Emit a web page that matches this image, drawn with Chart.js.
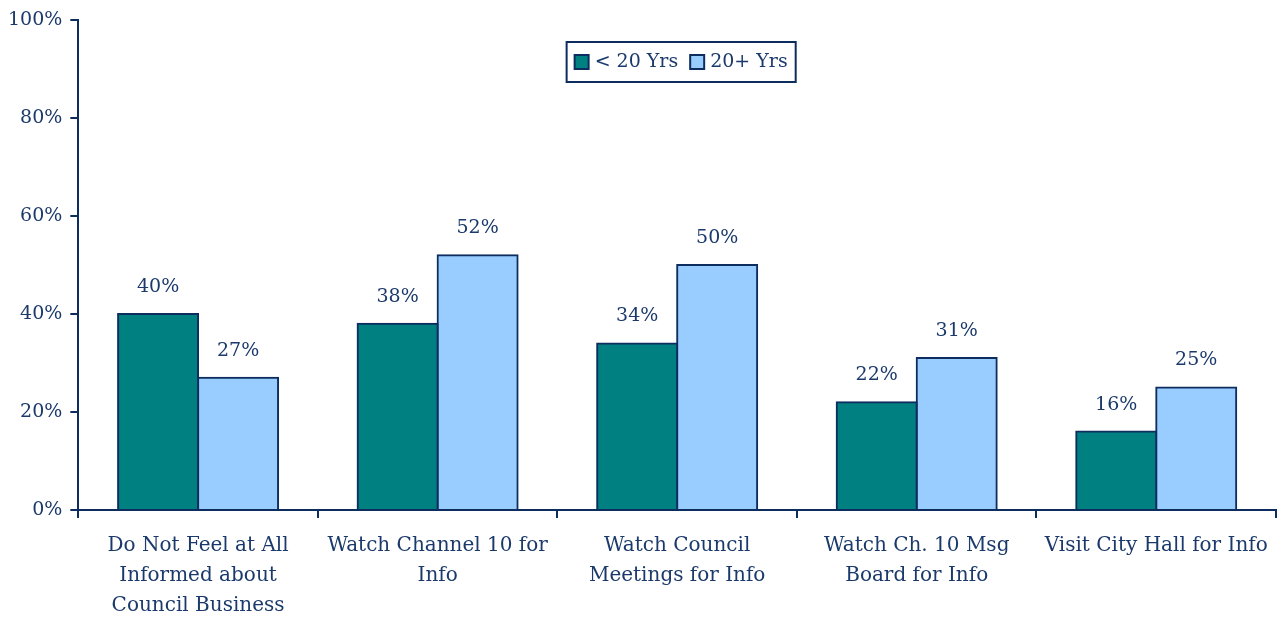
<!DOCTYPE html>
<html>
<head>
<meta charset="utf-8">
<script src="https://cdn.jsdelivr.net/npm/chart.js@4"></script>
<style>
html,body{margin:0;padding:0;background:#fff;}
#wrap{width:1282px;height:619px;}
</style>
</head>
<body>
<div id="wrap"><canvas id="c" width="1282" height="619"></canvas></div>
<script>
const categories = [
  ["Do Not Feel at All","Informed about","Council Business"],
  ["Watch Channel 10 for","Info"],
  ["Watch Council","Meetings for Info"],
  ["Watch Ch. 10 Msg","Board for Info"],
  ["Visit City Hall for Info"]
];
const seriesNames = ["< 20 Yrs", "20+ Yrs"];
const under20 = [40, 38, 34, 22, 16];
const over20 = [27, 52, 50, 31, 25];
const yTicks = [0, 20, 40, 60, 80, 100];

const NAVY = '#0d2d5e';
const TEXT = '#1b3a6b';
const FONT = '"DejaVu Serif", serif';
const colors = ['#008080', '#99ccff'];

const valueLabels = {
  id: 'valueLabels',
  afterDatasetsDraw(chart) {
    const ctx = chart.ctx;
    ctx.save();
    ctx.fillStyle = TEXT;
    ctx.font = '19px ' + FONT;
    ctx.textAlign = 'center';
    ctx.textBaseline = 'middle';
    chart.data.datasets.forEach((ds, i) => {
      chart.getDatasetMeta(i).data.forEach((bar, j) => {
        ctx.fillText(ds.data[j] + '%', bar.x, bar.y - 27);
      });
    });
    ctx.restore();
  }
};

const boxLegend = {
  id: 'boxLegend',
  afterDraw(chart) {
    const ctx = chart.ctx;
    const ca = chart.chartArea;
    const cx = (ca.left + ca.right) / 2 + 4;
    ctx.save();
    ctx.font = '19px ' + FONT;
    const sw = 14, gap = 6, itemGap = 12, pad = 8;
    const widths = seriesNames.map(n => sw + gap + ctx.measureText(n).width);
    const total = widths.reduce((a, b) => a + b, 0) + itemGap + pad * 2;
    const h = 40;
    const left = cx - total / 2;
    const top = ca.top + 22;
    ctx.strokeStyle = NAVY;
    ctx.lineWidth = 2;
    ctx.strokeRect(left, top, total, h);
    let x = left + pad;
    const my = top + h / 2;
    seriesNames.forEach((n, i) => {
      ctx.fillStyle = colors[i];
      ctx.fillRect(x, my - sw / 2, sw, sw);
      ctx.lineWidth = 2;
      ctx.strokeRect(x, my - sw / 2, sw, sw);
      ctx.fillStyle = TEXT;
      ctx.textBaseline = 'middle';
      ctx.textAlign = 'left';
      ctx.fillText(n, x + sw + gap, my);
      x += widths[i] + itemGap;
    });
    ctx.restore();
  }
};

new Chart(document.getElementById('c'), {
  type: 'bar',
  data: {
    labels: categories,
    datasets: [
      { label: seriesNames[0], data: under20, backgroundColor: colors[0], borderColor: NAVY, borderWidth: 2, borderSkipped: 'bottom', inflateAmount: 1 },
      { label: seriesNames[1], data: over20, backgroundColor: colors[1], borderColor: NAVY, borderWidth: 2, borderSkipped: 'bottom', inflateAmount: 1 }
    ]
  },
  options: {
    responsive: false,
    animation: false,
    layout: { padding: { top: 20, right: 6, left: 0, bottom: 0 } },
    datasets: { bar: { categoryPercentage: 0.668, barPercentage: 1.0 } },
    plugins: { legend: { display: false }, tooltip: { enabled: false } },
    scales: {
      x: {
        afterFit(axis) { axis.height = 109; },
        grid: { drawOnChartArea: false, drawTicks: true, tickLength: 8, color: NAVY, lineWidth: 2, offset: true },
        border: { color: NAVY, width: 2 },
        ticks: { color: TEXT, font: { family: FONT, size: 20, lineHeight: 1.5 }, maxRotation: 0, autoSkip: false, padding: 13 }
      },
      y: {
        min: 0, max: 100,
        afterBuildTicks(axis) { axis.ticks = yTicks.map(v => ({ value: v })); },
        grid: { drawOnChartArea: false, drawTicks: true, tickLength: 8, color: NAVY, lineWidth: 2 },
        border: { color: NAVY, width: 2 },
        ticks: { color: TEXT, font: { family: FONT, size: 19 }, padding: 8, callback: v => v + '%' }
      }
    }
  },
  plugins: [valueLabels, boxLegend]
});
</script>
</body>
</html>
